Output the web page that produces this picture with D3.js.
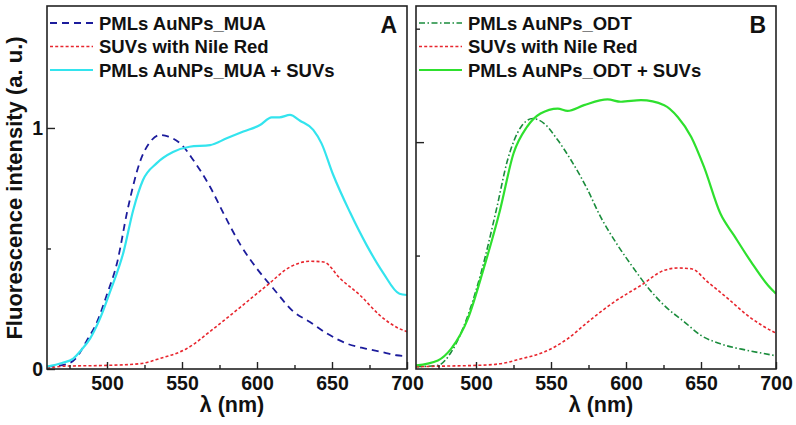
<!DOCTYPE html>
<html><head><meta charset="utf-8">
<script src="https://cdn.jsdelivr.net/npm/d3@7"></script>
<style>body{margin:0;background:#fff}svg{display:block}text{font-family:"Liberation Sans",Arial,sans-serif;font-weight:bold;fill:#111}</style>
</head><body><svg id="c" width="796" height="425"></svg>
<script>
// ---- data (wavelength nm, intensity a.u.) ----
const xTickLabels = [500, 550, 600, 650, 700];
const xMinorTicks = [475, 525, 575, 625, 675];
const yTickLabelsA = [0, 1];
const yMinorTicksA = [0.5];
const yMajorTicksB = [1];
const yMinorTicksB = [0.5, 1.5];

const mua_x = [460,473,480,486.7,493,500,506.7,513.7,522,529.8,535.3,541,549.8,557.5,568.7,577.8,589,600,611,624.7,635.3,646.7,660,673,685,693,700];
const mua_y = [0.01,0.02,0.05,0.12,0.19,0.31,0.44,0.66,0.86,0.95,0.971,0.964,0.93,0.867,0.756,0.644,0.515,0.416,0.333,0.236,0.195,0.147,0.105,0.084,0.068,0.057,0.054];

const muaSuv_x = [460,470,477.5,483,488.7,495.3,502,511,517.5,524,533,544,555,568.7,579.8,590.9,602,609.8,615,622,628.7,637.5,643,650.5,662,673,684,695,700];
const muaSuv_y = [0.01,0.025,0.043,0.08,0.126,0.209,0.32,0.485,0.66,0.784,0.853,0.90,0.922,0.929,0.957,0.985,1.012,1.044,1.044,1.054,1.03,0.992,0.936,0.81,0.65,0.515,0.40,0.312,0.307];

const nileA_x = [460,473,500,522,535,553,571,589,606.7,622,635.3,644.4,655.5,668.7,682,695,700];
const nileA_y = [0.004,0.012,0.015,0.022,0.043,0.084,0.167,0.257,0.347,0.423,0.447,0.444,0.375,0.306,0.222,0.167,0.155];

const odt_x = [460,474.6,483.5,494.6,503.5,513.5,521,530,537.8,545.5,554.5,563.4,574.5,582,594.4,605.5,614.5,625.5,639,650,663,681,698.5,700];
const odt_y = [0.01,0.016,0.075,0.236,0.427,0.70,0.92,1.067,1.104,1.082,1.009,0.92,0.789,0.684,0.546,0.44,0.36,0.28,0.207,0.148,0.111,0.082,0.06,0.058];

const odtSuv_x = [460,474.6,483.5,494.6,505,516,525,534,543,554.5,561,572,587.7,596.6,610,625.5,634.5,643.5,652,663,672,683.5,694.6,700];
const odtSuv_y = [0.016,0.038,0.09,0.222,0.44,0.70,0.95,1.067,1.126,1.148,1.138,1.163,1.188,1.178,1.185,1.163,1.111,1.023,0.891,0.684,0.589,0.471,0.369,0.332];

const nileB_x = [460,480,500.7,516,530,545.5,561,574.5,592,610,625.5,634.5,643.5,654.6,668,681,698.5,700];
const nileB_y = [0.01,0.013,0.016,0.023,0.045,0.075,0.133,0.207,0.295,0.369,0.435,0.445,0.442,0.383,0.31,0.236,0.163,0.158];

const legendA = ["PMLs AuNPs_MUA", "SUVs with Nile Red", "PMLs AuNPs_MUA + SUVs"];
const legendB = ["PMLs AuNPs_ODT", "SUVs with Nile Red", "PMLs AuNPs_ODT + SUVs"];

// ---- drawing ----
const svg = d3.select("#c");
svg.append("rect").attr("width",796).attr("height",425).attr("fill","#fff");
const zip = (xs, ys) => xs.map((x,i)=>[x, ys[i]]);

const styles = {
  navy:  {stroke:"#1c1c9c", w:1.8, dash:"7,5"},
  red:   {stroke:"#e8262e", w:1.6, dash:"3,2.2"},
  cyan:  {stroke:"#33e4ee", w:2.2, dash:null},
  dgreen:{stroke:"#1a8c3c", w:1.6, dash:"6,2.5,1.5,2.5"},
  green: {stroke:"#2ee02e", w:2.2, dash:null}
};
const FONT = "Liberation Sans, Arial, sans-serif";

function panel(cfg){
  const g = svg.append("g");
  const x = d3.scaleLinear().domain([460,700]).range([cfg.x0, cfg.x1]);
  const y = d3.scaleLinear().domain([0, cfg.ymax]).range([cfg.y0, cfg.y1]);
  const line = d3.line().x(d=>x(d[0])).y(d=>y(d[1])).curve(d3.curveMonotoneX);
  const cid = "clip"+cfg.name;
  svg.append("clipPath").attr("id",cid).append("rect")
    .attr("x",cfg.x0).attr("y",cfg.y1).attr("width",cfg.x1-cfg.x0).attr("height",cfg.y0-cfg.y1);
  const lg = g.append("g").attr("clip-path",`url(#${cid})`);
  cfg.series.forEach(s=>{
    const st = styles[s.style];
    lg.append("path").datum(zip(s.x,s.y)).attr("d",line).attr("fill","none")
      .attr("stroke",st.stroke).attr("stroke-width",st.w)
      .attr("stroke-dasharray",st.dash).attr("stroke-linejoin","round");
  });
  const ax = g.append("g").attr("transform",`translate(0,${cfg.y0})`)
    .call(d3.axisBottom(x).tickValues(xTickLabels).tickSizeInner(-7).tickSizeOuter(0).tickPadding(7).tickFormat(d3.format("d")));
  ax.select(".domain").remove();
  ax.selectAll("text").attr("font-size",19.5).attr("fill","#111").attr("font-family",FONT).attr("font-weight","bold");
  ax.selectAll("line").attr("stroke","#222").attr("stroke-width",1.4);
  const axm = g.append("g").attr("transform",`translate(0,${cfg.y0})`)
    .call(d3.axisBottom(x).tickValues(xMinorTicks).tickSizeInner(-4).tickSizeOuter(0).tickFormat(""));
  axm.select(".domain").remove();
  axm.selectAll("line").attr("stroke","#222").attr("stroke-width",1.4);
  const ay = g.append("g").attr("transform",`translate(${cfg.x0},0)`)
    .call(d3.axisLeft(y).tickValues(cfg.yMajor).tickSizeInner(-8).tickSizeOuter(0).tickPadding(4)
      .tickFormat(cfg.yLabels ? d3.format("d") : ""));
  ay.select(".domain").remove();
  ay.selectAll("text").attr("font-size",19.5).attr("fill","#111").attr("font-family",FONT).attr("font-weight","bold");
  ay.selectAll("line").attr("stroke","#222").attr("stroke-width",1.4);
  const aym = g.append("g").attr("transform",`translate(${cfg.x0},0)`)
    .call(d3.axisLeft(y).tickValues(cfg.yMinor).tickSizeInner(-4).tickSizeOuter(0).tickFormat(""));
  aym.select(".domain").remove();
  aym.selectAll("line").attr("stroke","#222").attr("stroke-width",1.4);
  g.append("rect").attr("x",cfg.x0).attr("y",cfg.y1).attr("width",cfg.x1-cfg.x0).attr("height",cfg.y0-cfg.y1)
    .attr("fill","none").attr("stroke","#222").attr("stroke-width",1.6);
  g.append("text").attr("x",(cfg.x0+cfg.x1)/2+5).attr("y",412).attr("text-anchor","middle")
    .attr("font-size",21.5).text("λ (nm)");
  g.append("text").attr("x",cfg.x1-10).attr("y",33).attr("text-anchor","end").attr("font-size",23).text(cfg.name);
  cfg.series.forEach((s,i)=>{
    const st = styles[s.style];
    const yy = 23 + i*23.5;
    g.append("line").attr("x1",cfg.x0+3).attr("x2",cfg.x0+46).attr("y1",yy).attr("y2",yy)
      .attr("stroke",st.stroke).attr("stroke-width",st.w).attr("stroke-dasharray",st.dash);
    g.append("text").attr("x",cfg.x0+52).attr("y",yy+6.5).attr("font-size",18.5).text(cfg.legend[i]);
  });
}

panel({name:"A", x0:47, x1:407, y0:369, y1:6, ymax:1.506, yMajor:yTickLabelsA, yMinor:yMinorTicksA, yLabels:true, legend:legendA,
  series:[{x:mua_x,y:mua_y,style:"navy"},{x:nileA_x,y:nileA_y,style:"red"},{x:muaSuv_x,y:muaSuv_y,style:"cyan"}]});
panel({name:"B", x0:416, x1:776, y0:369, y1:6, ymax:1.6, yMajor:yMajorTicksB, yMinor:yMinorTicksB, yLabels:false, legend:legendB,
  series:[{x:odt_x,y:odt_y,style:"dgreen"},{x:nileB_x,y:nileB_y,style:"red"},{x:odtSuv_x,y:odtSuv_y,style:"green"}]});

svg.append("text").attr("transform","translate(22,188) rotate(-90)").attr("text-anchor","middle")
  .attr("font-size",22).text("Fluorescence intensity (a. u.)");
</script></body></html>
